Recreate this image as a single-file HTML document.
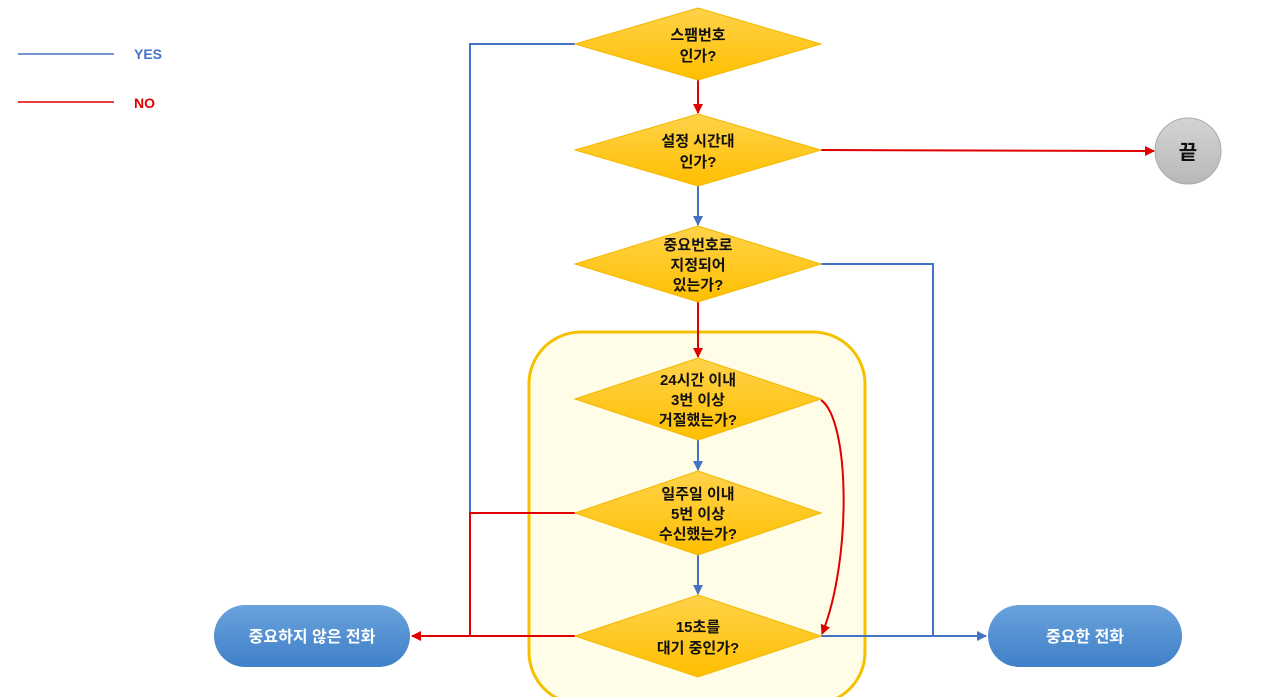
<!DOCTYPE html>
<html><head><meta charset="utf-8"><style>
html,body{margin:0;padding:0;background:#fff;}
svg{display:block;}
text{font-family:"Liberation Sans","Noto Sans CJK KR",sans-serif;}
</style></head><body>
<svg width="1282" height="697" viewBox="0 0 1282 697" xmlns="http://www.w3.org/2000/svg">
<defs>
<linearGradient id="dg" x1="0" y1="0" x2="0" y2="1"><stop offset="0" stop-color="#ffd24a"/><stop offset="1" stop-color="#ffbf00"/></linearGradient>
<linearGradient id="bg" x1="0" y1="0" x2="0" y2="1"><stop offset="0" stop-color="#6aa2dc"/><stop offset="1" stop-color="#3f80c8"/></linearGradient>
<linearGradient id="gg" x1="0" y1="0" x2="0" y2="1"><stop offset="0" stop-color="#d4d4d4"/><stop offset="1" stop-color="#b8b8b8"/></linearGradient>
<marker id="ar" markerWidth="10" markerHeight="10" refX="9" refY="5" orient="auto" markerUnits="userSpaceOnUse"><path d="M0,0 L10,5 L0,10 z" fill="#e00000"/></marker>
<marker id="ab" markerWidth="10" markerHeight="10" refX="9" refY="5" orient="auto" markerUnits="userSpaceOnUse"><path d="M0,0 L10,5 L0,10 z" fill="#4472c4"/></marker>
</defs>
<line x1="18" y1="54" x2="114" y2="54" stroke="#4472c4" stroke-width="1.5"/>
<text x="134" y="59" font-size="14" font-weight="bold" fill="#4472c4">YES</text>
<line x1="18" y1="102" x2="114" y2="102" stroke="#e00000" stroke-width="1.5"/>
<text x="134" y="108" font-size="14" font-weight="bold" fill="#e00000">NO</text>
<rect x="529" y="332" width="336" height="372" rx="52" fill="#fffde8" stroke="#f5c000" stroke-width="3"/>
<g fill="none" stroke-width="2">
<polyline points="575,44 470,44 470,636" stroke="#4472c4"/>
<polyline points="575,513 470,513 470,636" stroke="#e00000"/>
<line x1="575" y1="636" x2="412" y2="636" stroke="#e00000" marker-end="url(#ar)"/>
<line x1="698" y1="80" x2="698" y2="113" stroke="#e00000" marker-end="url(#ar)"/>
<line x1="821" y1="150" x2="1154" y2="151" stroke="#e00000" marker-end="url(#ar)"/>
<line x1="698" y1="186" x2="698" y2="225" stroke="#4472c4" marker-end="url(#ab)"/>
<line x1="698" y1="302" x2="698" y2="357" stroke="#e00000" marker-end="url(#ar)"/>
<line x1="698" y1="440" x2="698" y2="470" stroke="#4472c4" marker-end="url(#ab)"/>
<line x1="698" y1="553" x2="698" y2="594" stroke="#4472c4" marker-end="url(#ab)"/>
<polyline points="821,264 933,264 933,636" stroke="#4472c4"/>
<line x1="821" y1="636" x2="986" y2="636" stroke="#4472c4" marker-end="url(#ab)"/>
<path d="M821,400 C850,420 852,560 822,634" stroke="#e00000" marker-end="url(#ar)"/>
</g>
<g fill="url(#dg)" stroke="#f2b800" stroke-width="1">
<polygon points="698,8 821,44 698,80 575,44"/>
<polygon points="698,114 821,150 698,186 575,150"/>
<polygon points="698,226 821,264 698,302 575,264"/>
<polygon points="698,358 821,399 698,440 575,399"/>
<polygon points="698,471 821,513 698,555 575,513"/>
<polygon points="698,595 821,636 698,677 575,636"/>
</g>
<g font-size="15" text-anchor="middle" fill="#111" font-weight="bold">
<text x="698" y="40">스팸번호</text><text x="698" y="61">인가?</text>
<text x="698" y="146">설정 시간대</text><text x="698" y="167">인가?</text>
<text x="698" y="250">중요번호로</text><text x="698" y="270">지정되어</text><text x="698" y="290">있는가?</text>
<text x="698" y="385">24시간 이내</text><text x="698" y="405">3번 이상</text><text x="698" y="425">거절했는가?</text>
<text x="698" y="499">일주일 이내</text><text x="698" y="519">5번 이상</text><text x="698" y="539">수신했는가?</text>
<text x="698" y="632">15초를</text><text x="698" y="653">대기 중인가?</text>
</g>
<rect x="214" y="605" width="196" height="62" rx="31" fill="url(#bg)"/>
<text x="312" y="642" font-size="16" font-weight="bold" text-anchor="middle" fill="#fff">중요하지 않은 전화</text>
<rect x="988" y="605" width="194" height="62" rx="31" fill="url(#bg)"/>
<text x="1085" y="642" font-size="16" font-weight="bold" text-anchor="middle" fill="#fff">중요한 전화</text>
<circle cx="1188" cy="151" r="33" fill="url(#gg)" stroke="#aaa" stroke-width="1"/>
<text x="1188" y="159" font-size="20" font-weight="bold" text-anchor="middle" fill="#111">끝</text>
</svg>
</body></html>
